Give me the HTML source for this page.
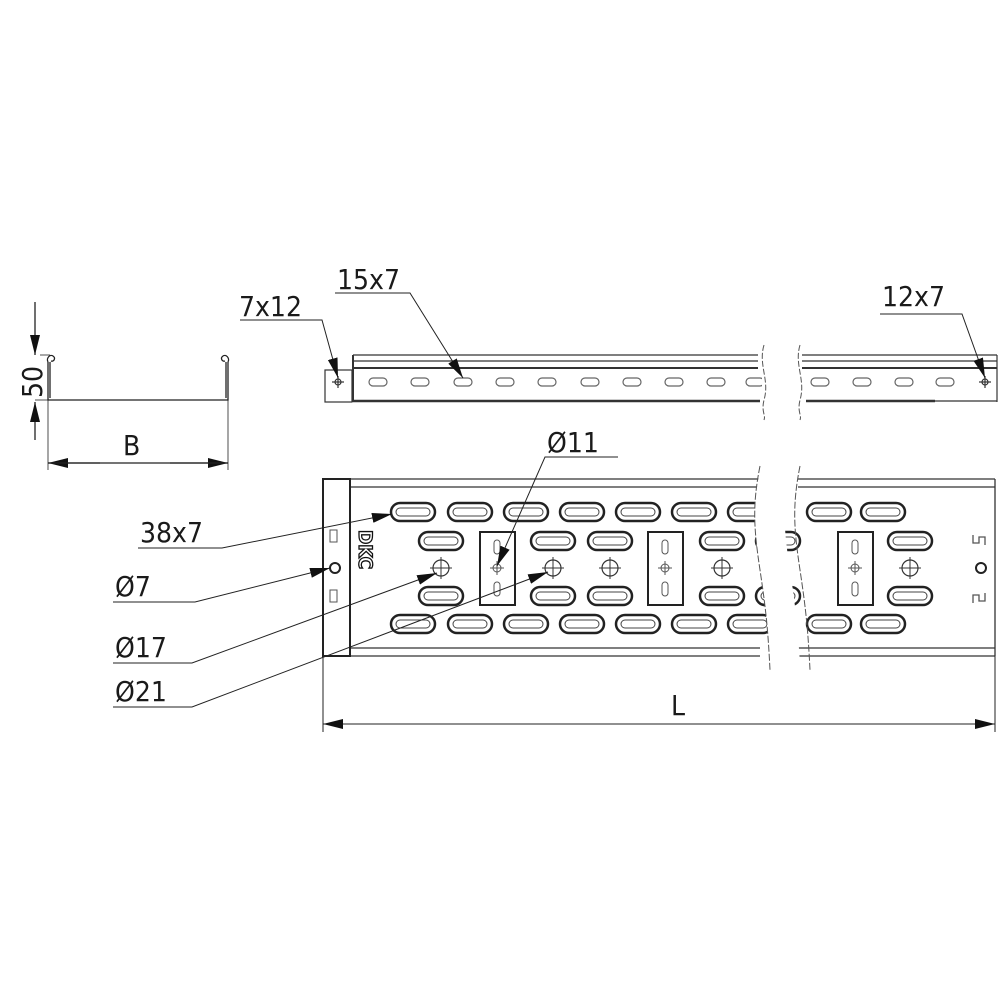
<!DOCTYPE html>
<html><head><meta charset="utf-8"><style>
html,body{margin:0;padding:0;background:#fff;}
svg{display:block}
text{font-family:"DejaVu Sans Condensed","Liberation Sans",sans-serif;fill:#1a1a1a;}
</style></head><body>
<svg width="1000" height="1000" viewBox="0 0 1000 1000" xmlns="http://www.w3.org/2000/svg">
<defs>
<marker id="ar" viewBox="0 0 20 10" refX="20" refY="5" markerWidth="20" markerHeight="10" markerUnits="userSpaceOnUse" orient="auto"><path d="M0,0 L20,5 L0,10 z" fill="#111"/></marker>
<g id="ls"><rect x="-22" y="-9" width="44" height="18" rx="9" fill="#fff" stroke="#222" stroke-width="2.5"/><rect x="-17" y="-4" width="34" height="8" rx="4" fill="none" stroke="#444" stroke-width="1"/></g>
<g id="ss"><rect x="-9" y="-4" width="18" height="8" rx="4" fill="#fff" stroke="#666" stroke-width="1.2"/></g>
<g id="ho"><circle r="8" fill="none" stroke="#333" stroke-width="1.2"/><line x1="-11" y1="0" x2="11" y2="0" stroke="#333" stroke-width="1"/><line x1="0" y1="-11" x2="0" y2="11" stroke="#333" stroke-width="1"/></g>
<g id="pl"><rect x="0" y="0" width="35" height="73" fill="#fff" stroke="#222" stroke-width="2"/><rect x="14" y="8" width="6" height="14" rx="3" fill="none" stroke="#555"/><rect x="14" y="50" width="6" height="14" rx="3" fill="none" stroke="#555"/><circle cx="17" cy="36" r="4" fill="none" stroke="#555"/><line x1="10" y1="36" x2="24" y2="36" stroke="#555"/><line x1="17" y1="29" x2="17" y2="43" stroke="#555"/></g>
</defs>
<g stroke="#222" fill="none" stroke-width="1.3">
<!-- cross section -->
<path d="M48,362 V400 H228 V362"/>
<path d="M48,362 c-2,-4 2,-8 5,-6 c3,2 1,6 -2,5"/>
<path d="M228,362 c2,-4 -2,-8 -5,-6 c-3,2 -1,6 2,5"/>
<line x1="50" y1="362" x2="50" y2="398"/><line x1="226" y1="362" x2="226" y2="398"/>
<line x1="40" y1="355" x2="50" y2="355" stroke-width="0.8"/>
<line x1="48" y1="400" x2="48" y2="470" stroke-width="0.8"/>
<line x1="228" y1="400" x2="228" y2="470" stroke-width="0.8"/>
<line x1="35" y1="302" x2="35" y2="355" marker-end="url(#ar)"/>
<line x1="35" y1="440" x2="35" y2="402" marker-end="url(#ar)"/>
<line x1="35" y1="400" x2="48" y2="400" stroke-width="0.8"/>
<line x1="100" y1="463" x2="48" y2="463" marker-end="url(#ar)"/>
<line x1="170" y1="463" x2="228" y2="463" marker-end="url(#ar)"/>
<line x1="48" y1="463" x2="228" y2="463"/>
</g>
<text x="0" y="0" font-size="28" transform="translate(42,398) rotate(-90)">50</text>
<text x="123" y="455" font-size="28">B</text>

<!-- top side view -->
<g stroke="#333" fill="none" stroke-width="1.2">
<rect x="325" y="370" width="27" height="32"/>
<line x1="353" y1="355" x2="758" y2="355"/><line x1="353" y1="361" x2="758" y2="361"/><line x1="353" y1="368" x2="758" y2="368" stroke-width="2"/>
<line x1="353" y1="355" x2="353" y2="402" stroke-width="2"/>
<line x1="353" y1="401" x2="760" y2="401" stroke-width="2.5"/>
<line x1="802" y1="355" x2="997" y2="355"/><line x1="802" y1="361" x2="997" y2="361"/><line x1="802" y1="368" x2="997" y2="368" stroke-width="2"/>
<line x1="806" y1="401" x2="935" y2="401" stroke-width="2.5"/><line x1="935" y1="401" x2="997" y2="401"/>
<line x1="997" y1="355" x2="997" y2="402"/>
<circle cx="338" cy="382" r="3"/><line x1="332" y1="382" x2="344" y2="382"/><line x1="338" y1="376" x2="338" y2="388"/>
<circle cx="985" cy="382" r="3"/><line x1="979" y1="382" x2="991" y2="382"/><line x1="985" y1="376" x2="985" y2="388"/>
</g>
<use href="#ss" x="378" y="382"/><use href="#ss" x="420" y="382"/><use href="#ss" x="463" y="382"/><use href="#ss" x="505" y="382"/><use href="#ss" x="547" y="382"/><use href="#ss" x="590" y="382"/><use href="#ss" x="632" y="382"/><use href="#ss" x="674" y="382"/><use href="#ss" x="716" y="382"/><use href="#ss" x="755" y="382"/>
<use href="#ss" x="820" y="382"/><use href="#ss" x="862" y="382"/><use href="#ss" x="904" y="382"/><use href="#ss" x="945" y="382"/>
<rect x="762" y="340" width="40" height="80" fill="#fff"/>
<path d="M764,345 c-6,20 6,35 0,55 c-3,12 2,15 0,20 M800,345 c-6,20 6,35 0,55 c-3,12 2,15 0,20" stroke="#555" fill="none" stroke-dasharray="6,2"/>

<!-- bottom view -->
<g stroke="#333" fill="none" stroke-width="1.3">
<line x1="350" y1="479" x2="760" y2="479"/><line x1="350" y1="487" x2="760" y2="487"/>
<line x1="350" y1="648" x2="760" y2="648"/><line x1="350" y1="656" x2="760" y2="656"/>
<line x1="798" y1="479" x2="995" y2="479"/><line x1="798" y1="487" x2="995" y2="487"/>
<line x1="798" y1="648" x2="995" y2="648"/><line x1="798" y1="656" x2="995" y2="656"/>
<line x1="995" y1="479" x2="995" y2="656"/>
</g>
<use href="#ls" x="413" y="512"/><use href="#ls" x="470" y="512"/><use href="#ls" x="526" y="512"/><use href="#ls" x="582" y="512"/><use href="#ls" x="638" y="512"/><use href="#ls" x="694" y="512"/><use href="#ls" x="750" y="512"/><use href="#ls" x="829" y="512"/><use href="#ls" x="883" y="512"/>
<use href="#ls" x="413" y="624"/><use href="#ls" x="470" y="624"/><use href="#ls" x="526" y="624"/><use href="#ls" x="582" y="624"/><use href="#ls" x="638" y="624"/><use href="#ls" x="694" y="624"/><use href="#ls" x="750" y="624"/><use href="#ls" x="829" y="624"/><use href="#ls" x="883" y="624"/>
<use href="#ls" x="441" y="541"/><use href="#ls" x="553" y="541"/><use href="#ls" x="610" y="541"/><use href="#ls" x="722" y="541"/><use href="#ls" x="778" y="541"/><use href="#ls" x="910" y="541"/>
<use href="#ls" x="441" y="596"/><use href="#ls" x="553" y="596"/><use href="#ls" x="610" y="596"/><use href="#ls" x="722" y="596"/><use href="#ls" x="778" y="596"/><use href="#ls" x="910" y="596"/>
<use href="#ho" x="441" y="568"/><use href="#ho" x="553" y="568"/><use href="#ho" x="610" y="568"/><use href="#ho" x="722" y="568"/><use href="#ho" x="910" y="568"/>
<use href="#pl" x="480" y="532"/><use href="#pl" x="648" y="532"/><use href="#pl" x="838" y="532"/>
<path d="M760,470 c-8,40 -6,60 0,100 c6,40 8,60 10,95 L800,665 c-2,-35 -4,-55 -10,-95 c-6,-40 -8,-60 0,-100 z" fill="#fff"/>
<path d="M760,466 c-8,40 -6,64 0,104 c6,40 8,60 10,100 M800,466 c-8,40 -6,64 0,104 c6,40 8,60 10,100" stroke="#555" fill="none" stroke-dasharray="7,2"/>
<!-- left plate -->
<rect x="323" y="479" width="27" height="177" fill="#fff" stroke="#222" stroke-width="2"/>
<rect x="330" y="530" width="7" height="12" fill="none" stroke="#555"/><rect x="330" y="590" width="7" height="12" fill="none" stroke="#555"/>
<circle cx="335" cy="568" r="5" fill="none" stroke="#222" stroke-width="2"/>
<text font-size="19" font-weight="bold" transform="translate(359,530) rotate(90)" style="fill:#fff;stroke:#111;stroke-width:1.3">DKC</text>
<!-- right marks -->
<g stroke="#555" fill="none" stroke-width="1.3">
<path d="M973,535 v8 h6 v-6 h6 v8"/><path d="M973,603 v-8 h6 v6 h6 v-8"/>
</g>
<circle cx="981" cy="568" r="5" fill="none" stroke="#222" stroke-width="2"/>
<!-- L dim -->
<g stroke="#222" fill="none" stroke-width="1">
<line x1="323" y1="656" x2="323" y2="732"/><line x1="995" y1="656" x2="995" y2="732"/>
<line x1="323" y1="724" x2="995" y2="724"/>
<line x1="400" y1="724" x2="323" y2="724" marker-end="url(#ar)"/>
<line x1="900" y1="724" x2="995" y2="724" marker-end="url(#ar)"/>
</g>
<text x="671" y="715" font-size="28">L</text>

<!-- leaders -->
<g stroke="#222" fill="none" stroke-width="1">
<polyline points="240,320 322,320 338,378" marker-end="url(#ar)"/>
<polyline points="335,293 410,293 463,378" marker-end="url(#ar)"/>
<polyline points="880,314 962,314 985,378" marker-end="url(#ar)"/>
<polyline points="618,457 545,457 497,566" marker-end="url(#ar)"/>
<polyline points="138,548 222,548 392,514" marker-end="url(#ar)"/>
<polyline points="113,602 195,602 330,568" marker-end="url(#ar)"/>
<polyline points="113,663 192,663 437,573" marker-end="url(#ar)"/>
<polyline points="113,707 192,707 548,572" marker-end="url(#ar)"/>
</g>
<text x="239" y="316" font-size="28">7x12</text>
<text x="337" y="289" font-size="28">15x7</text>
<text x="882" y="306" font-size="28">12x7</text>
<text x="547" y="452" font-size="28">Ø11</text>
<text x="140" y="542" font-size="28">38x7</text>
<text x="115" y="596" font-size="28">Ø7</text>
<text x="115" y="657" font-size="28">Ø17</text>
<text x="115" y="701" font-size="28">Ø21</text>
</svg>
</body></html>
